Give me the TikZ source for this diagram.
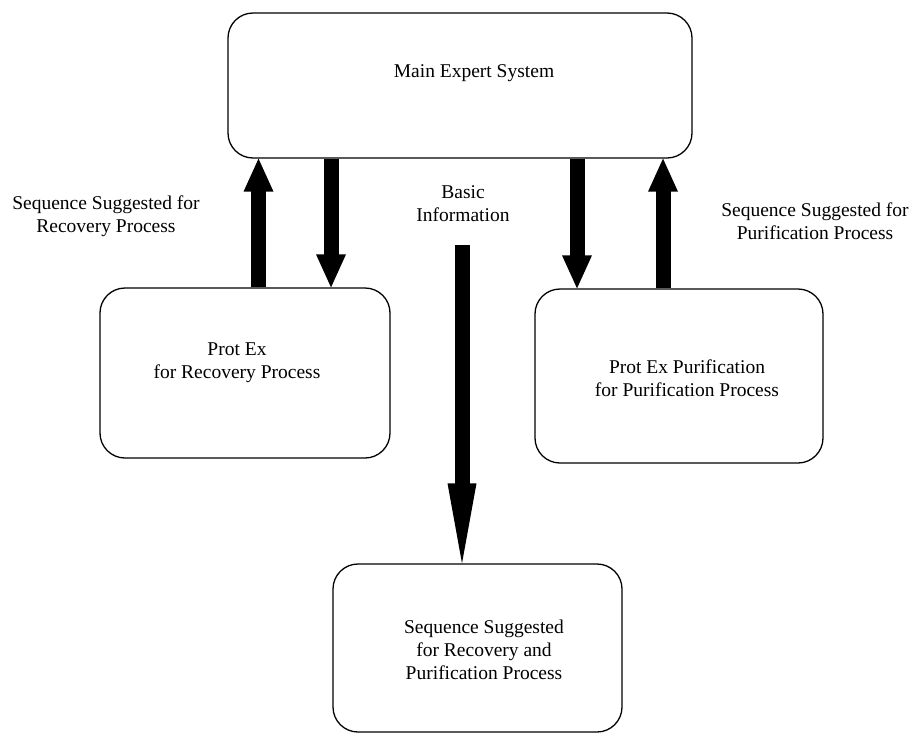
\documentclass[tikz,border=0pt]{standalone}
\usepackage{fontspec}
\setmainfont{Liberation Serif}
\usetikzlibrary{arrows.meta,positioning,calc}

\begin{document}
\begin{tikzpicture}[
  x=1pt, y=-1pt,
  font=\fontsize{19.5}{23}\selectfont,
  box/.style={
    draw,
    rounded corners=25pt,
    line width=1.3pt,
    inner sep=0pt
  },
  txt/.style={align=center, inner sep=0pt},
  fat/.style={-{Triangle[width=30pt,length=33pt,line width=0pt]}, line width=15pt,
    postaction={draw, -, shorten >=20pt}},
  longfat/.style={-{Triangle[width=29pt,length=80pt,line width=0pt]}, line width=15pt,
    postaction={draw, -, shorten >=50pt}}
]
\useasboundingbox (0,0) rectangle (913,734);

% ========== Boxes ==========
\node[box, minimum width=464pt, minimum height=145pt] (main) at (460,85.5) {};
\node[box, minimum width=290pt, minimum height=170pt] (rec) at (245,373) {};
\node[box, minimum width=288pt, minimum height=174pt] (pur) at (679,376) {};
\node[box, minimum width=289pt, minimum height=168pt] (seq) at (477.5,648) {};

% box texts
\node[txt] (main-txt) at ($(main)+(14,-12)$) {Main Expert System};
\node[txt] (rec-txt) at ($(rec)+(-8,-10)$) {Prot Ex\\for Recovery Process};
\node[txt] (pur-txt) at ($(pur)+(8,2)$) {Prot Ex Purification\\for Purification Process};
\node[txt] (seq-txt) at ($(seq)+(6.5,2)$) {Sequence Suggested\\for Recovery and\\Purification Process};

% ========== Labels ==========
\node[txt] (rec-lbl) at (106,216) {Sequence Suggested for\\Recovery Process};
\node[txt] (pur-lbl) at (815,221) {Sequence Suggested for\\Purification Process};
\node[txt] (info-lbl) at (463,204) {Basic\\Information};

% ========== Arrows ==========
\coordinate (rec-up) at (258.5,0);
\coordinate (rec-down) at (331,0);
\coordinate (pur-down) at (577,0);
\coordinate (pur-up) at (663,0);
\coordinate (info-top) at (462,245);

\draw[fat] (rec-up |- rec.north) -- (rec-up |- main.south);
\draw[fat] (rec-down |- main.south) -- (rec-down |- rec.north);
\draw[fat] (pur-down |- main.south) -- (pur-down |- pur.north);
\draw[fat] (pur-up |- pur.north) -- (pur-up |- main.south);

\draw[longfat] (info-top) -- (info-top |- seq.north);

\end{tikzpicture}
\end{document}
